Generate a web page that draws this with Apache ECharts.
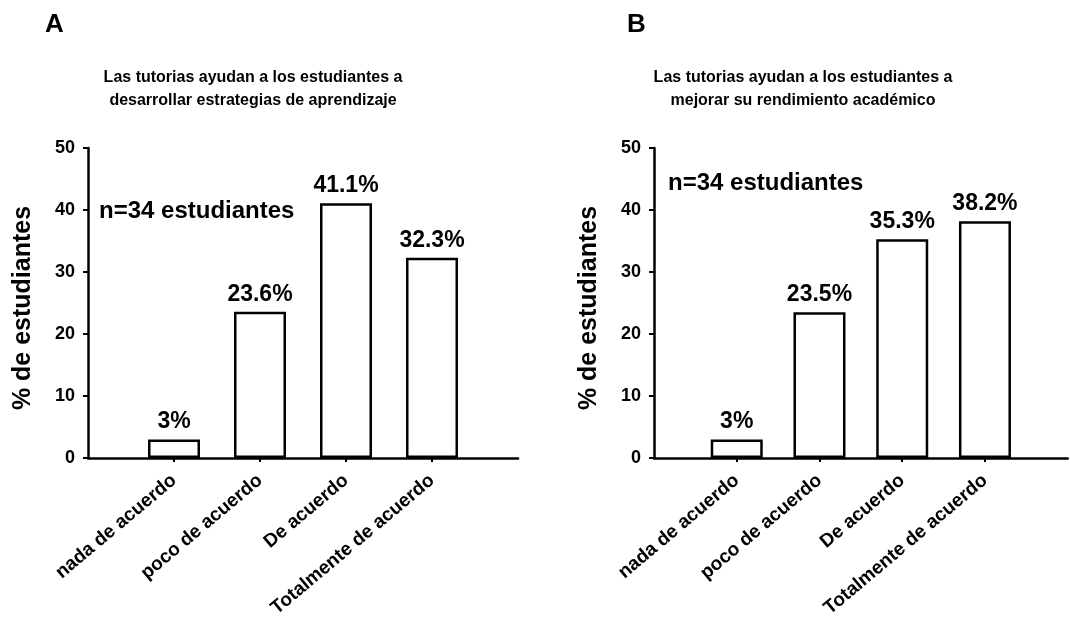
<!DOCTYPE html>
<html>
<head>
<meta charset="utf-8">
<script src="https://cdn.jsdelivr.net/npm/echarts@6/dist/echarts.min.js"></script>
<style>
html,body{margin:0;padding:0;background:#fff;}
#main{width:1070px;height:620px;}
</style>
</head>
<body>
<div id="main"></div>
<script>
const categories = ['nada de acuerdo', 'poco de acuerdo', 'De acuerdo', 'Totalmente de acuerdo'];
const valuesA = [3, 23.6, 41.1, 32.3];
const valuesB = [3, 23.5, 35.3, 38.2];
const yTicks = [0, 10, 20, 30, 40, 50];
const titleA = 'Las tutorias ayudan a los estudiantes a\ndesarrollar estrategias de aprendizaje';
const titleB = 'Las tutorias ayudan a los estudiantes a\nmejorar su rendimiento académico';
const nText = 'n=34 estudiantes';
const yName = '% de estudiantes';

const FONT = '"Liberation Sans", Arial, sans-serif';
// pad categories with an empty slot on each side (axis spacing like the original)
const cats = [''].concat(categories, ['']);
const pad = v => ['-'].concat(v, ['-']);

function xAxis(gi) {
  return {
    type: 'category', gridIndex: gi, data: cats, boundaryGap: false,
    axisLine: { lineStyle: { color: '#000', width: 2.5 } },
    axisTick: { length: 4, lineStyle: { color: '#000', width: 2 },
      interval: (i) => i > 0 && i < cats.length - 1 },
    axisLabel: { interval: 0, rotate: 40, margin: 20, color: '#000', fontFamily: FONT,
      fontWeight: 'bold', fontSize: 19 }
  };
}
function yAxis(gi) {
  return {
    type: 'value', gridIndex: gi, min: yTicks[0], max: yTicks[yTicks.length - 1], interval: 10,
    name: yName, nameLocation: 'middle', nameGap: 52,
    nameTextStyle: { color: '#000', fontFamily: FONT, fontWeight: 'bold', fontSize: 25, padding: [0, 10, 0, 0] },
    axisLine: { show: true, lineStyle: { color: '#000', width: 2.5 } },
    axisTick: { show: true, length: 5, lineStyle: { color: '#000', width: 2 } },
    axisLabel: { margin: 13, color: '#000', fontFamily: FONT, fontWeight: 'bold', fontSize: 18 },
    splitLine: { show: false }
  };
}
function series(gi, vals) {
  return {
    type: 'bar', xAxisIndex: gi, yAxisIndex: gi, data: pad(vals), barWidth: 52,
    itemStyle: { color: '#fff', borderColor: '#000', borderWidth: 2.5 },
    label: { show: true, position: 'top', distance: 6, formatter: '{c}%', color: '#000',
      fontFamily: FONT, fontWeight: 'bold', fontSize: 23 }
  };
}
function txt(t, left, top, size, align, lh) {
  return { text: t, left: left, top: top, textAlign: align || 'left', padding: 0,
    textStyle: { color: '#000', fontFamily: FONT, fontWeight: 'bold', fontSize: size, lineHeight: lh || size * 1.2 } };
}

const chart = echarts.init(document.getElementById('main'));
chart.setOption({
  animation: false,
  backgroundColor: '#fff',
  title: [
    txt('A', 45, 9, 26),
    txt('B', 627, 9, 26),
    txt(titleA, 253, 66, 16, 'center', 23),
    txt(titleB, 803, 66, 16, 'center', 23),
    txt(nText, 99, 197, 24),
    txt(nText, 668, 169, 24)
  ],
  grid: [
    { left: 88, right: 552, top: 148, bottom: 162 },
    { left: 654, right: -14, top: 148, bottom: 162 }
  ],
  xAxis: [xAxis(0), xAxis(1)],
  yAxis: [yAxis(0), yAxis(1)],
  series: [series(0, valuesA), series(1, valuesB)]
});
</script>
</body>
</html>
